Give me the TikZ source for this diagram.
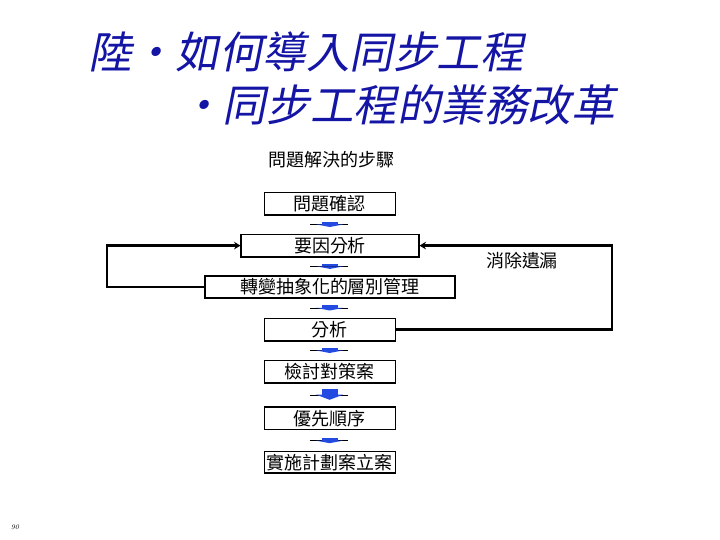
\documentclass[tikz,border=0pt]{standalone}
\usepackage{fontspec}
\newfontfamily\cjk{Noto Sans CJK TC}
\newfontfamily\cjktitle[FakeSlant=0.2]{Noto Sans CJK TC}
\usetikzlibrary{arrows.meta}
\definecolor{titleblue}{RGB}{20,20,165}
\definecolor{arrowblue}{RGB}{35,75,225}
\tikzset{
	stepbox/.style={draw, line width=0.8pt, inner sep=0pt, minimum height=0.57cm, font=\cjk\fontsize{12.8}{14}\selectfont}
}
\tikzset{
	titletext/.style={inner sep=0pt, anchor=base west, text=titleblue, font=\cjktitle\fontsize{31}{36}\selectfont}
}
\tikzset{
	bodytext/.style={inner sep=0pt, font=\cjk\fontsize{12.8}{14}\selectfont}
}
\tikzset{
	loopline/.style={line width=2pt}
}
\newcommand{\blockdown}[2]{%
  \begin{scope}[shift={(#1)}, yscale=#2]
    \draw[line width=0.6pt] (-0.5,0) -- (0.45,0);
    \fill[arrowblue] (-0.2,0.07) rectangle (0.2,0);
    \fill[arrowblue] (-0.34,0.005) -- (0.34,0.005) -- (0,-0.06) -- cycle;
  \end{scope}}

\begin{document}
\begin{tikzpicture}[>={Stealth[length=1.6mm,width=1.9mm]}]
      \useasboundingbox (0,0) rectangle (18,13.5);
      \node[titletext] (title) at (2.2,11.775) {陸・如何導入同步工程};
      \node[titletext] (subtitle) at (4.475,10.45) {・同步工程的業務改革};
      \node[bodytext] (steps) at (8.29,9.51) {問題解決的步驟};
      \node[stepbox, minimum width=3.275cm] (confirm) at (8.24,8.41) {問題確認};
      \node[stepbox, minimum width=4.45cm] (cause) at (8.25,7.36) {要因分析};
      \node[stepbox, minimum width=6.25cm, minimum height=0.55cm] (layer) at (8.25,6.325) {轉變抽象化的層別管理};
      \node[stepbox, minimum width=3.275cm] (analyse) at (8.24,5.26) {分析};
      \node[stepbox, minimum width=3.275cm] (measure) at (8.24,4.21) {檢討對策案};
      \node[stepbox, minimum width=3.275cm] (priority) at (8.24,3.04) {優先順序};
      \node[stepbox, minimum width=3.275cm, minimum height=0.53cm] (plan) at (8.24,1.94) {實施計劃案立案};
      % block arrows halfway between the boxes
      \path (confirm.south) -- (cause.north) coordinate[midway] (a1);
      \path (cause.south) -- (layer.north) coordinate[midway] (a2);
      \path (layer.south) -- (analyse.north) coordinate[midway] (a3);
      \path (analyse.south) -- (measure.north) coordinate[midway] (a4);
      \path (measure.south) -- (priority.north) coordinate[midway] (a5);
      \path (priority.south) -- (plan.north) coordinate[midway] (a6);
      \blockdown{a1}{1}
      \blockdown{a2}{1}
      \blockdown{a3}{1}
      \blockdown{a4}{1}
      \blockdown{a5}{2}
      \blockdown{a6}{1}
      % feedback loops into the cause box
      \coordinate (leftx) at (2.675,0);
      \coordinate (rightx) at (15.3,0);
      \draw[loopline, ->] (layer.west) -- (layer.west -| leftx) |- (cause.west);
      \draw[loopline, ->] (analyse.east) -- (analyse.east -| rightx) |- (cause.east);
      \node[bodytext] (fix) at (13.05,6.99) {消除遺漏};
      \node[inner sep=0pt, font=\fontsize{5}{6}\selectfont\itshape] (page) at (0.375,0.325) {90};
    \end{tikzpicture}
\end{document}
